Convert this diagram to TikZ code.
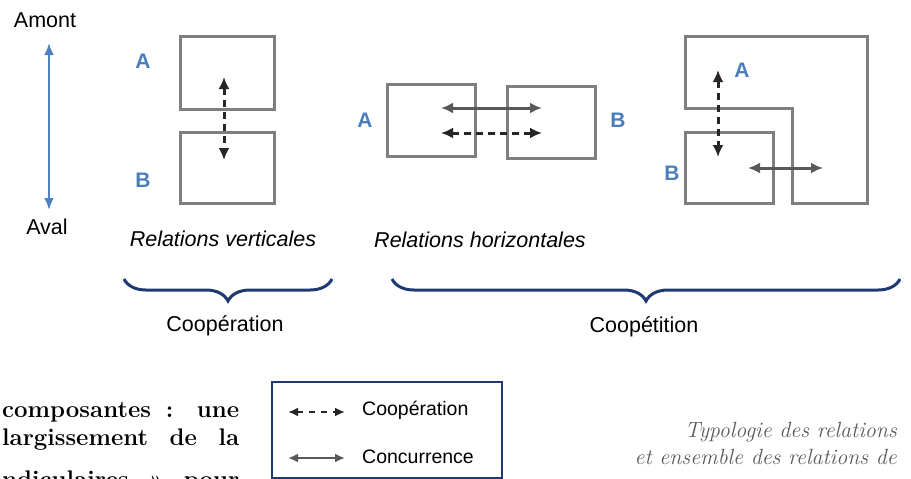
\documentclass[tikz,border=0pt]{standalone}
\usepackage{fontspec}
\setsansfont{Liberation Sans}
\usepackage{tikz}
\usetikzlibrary{arrows.meta,positioning,calc,decorations.pathreplacing}
\definecolor{boxgray}{HTML}{7F7F7F}
\definecolor{firmblue}{HTML}{4A7EBB}
\definecolor{axisblue}{HTML}{4F81BD}
\definecolor{navy}{HTML}{1F3A73}
\definecolor{concgray}{HTML}{595959}
\definecolor{coopblack}{HTML}{262626}
\definecolor{capgray}{HTML}{595959}

\begin{document}
\begin{tikzpicture}
[x=1pt,y=-1pt,>={Latex[length=12pt,width=11pt]}, node distance=0.9cm,
block/.style =
{draw=boxgray, line width=3pt, shape=rectangle, minimum width=94pt, minimum height=72pt, inner sep=0pt},
firm/.style = {font=\fontsize{21}{25}\selectfont\sffamily\bfseries, text=firmblue},
lbl/.style = {font=\fontsize{21.5}{25}\selectfont\sffamily},
leglbl/.style = {font=\fontsize{19.5}{23}\selectfont\sffamily, anchor=west, inner sep=0pt},
coop/.style = {<->, draw=coopblack, line width=3pt, dash pattern=on 7pt off 5pt},
conc/.style = {<->, draw=concgray, line width=3pt},
accol/.style = {draw=navy, line width=3pt, decorate, decoration={brace,mirror,amplitude=22pt}},
page/.style = {font=\fontsize{24}{28}\selectfont\bfseries, anchor=base west, inner sep=0pt}]
\useasboundingbox (0,0) rectangle (911,479);

\node [lbl](amont) at (45,20){Amont};
\node [lbl](aval) at (47,227){Aval};
\coordinate (up) at (49,43);
\coordinate (down) at (49,210);
\draw [{Latex[length=12pt,width=10pt]}-{Latex[length=12pt,width=10pt]}, draw=axisblue, line width=2.4pt] (up) -- (down);

\node [block, minimum height=73pt](vA) at (227,72.5){};
\node [block, minimum height=71pt](vB) at (227,167.5){};
\node [firm](lvA) at (143,61){A};
\node [firm](lvB) at (143,180){B};

\node [block, minimum width=88pt](hA) at (431,120){};
\node [block, minimum width=88pt](hB) at (551,122){};
\node [firm](lhA) at (365,120){A};
\node [firm](lhB) at (618,120){B};

\coordinate (L1) at (685,36);
\coordinate (L2) at (867,36);
\coordinate (L3) at (867,203);
\coordinate (L4) at (792,203);
\coordinate (L5) at (792,108);
\coordinate (L6) at (685,108);
\draw [draw=boxgray, line width=3pt] (L1) -- (L2) -- (L3) -- (L4) -- (L5) -- (L6) -- cycle;
\node [block, minimum width=88pt, minimum height=71pt](cB) at (729,167.5){};
\node [firm](lcA) at (742,70){A};
\node [firm](lcB) at (672,173){B};

\coordinate (v1) at (224,77);
\coordinate (v2) at (224,160);
\coordinate (h1) at (441,108);
\coordinate (h2) at (542,108);
\coordinate (h3) at (441,133);
\coordinate (h4) at (542,133);
\coordinate (c1) at (718,70);
\coordinate (c2) at (718,157);
\coordinate (c3) at (748,168);
\coordinate (c4) at (823,168);
\draw [coop] (v1) -- (v2);
\draw [coop] (h3) -- (h4);
\draw [coop] (c1) -- (c2);
\draw [conc] (h1) -- (h2);
\draw [conc] (c3) -- (c4);

\node [lbl, font=\fontsize{21.5}{25}\selectfont\sffamily\itshape](rv) at (223,239){Relations verticales};
\node [lbl, font=\fontsize{21.5}{25}\selectfont\sffamily\itshape](rh) at (480,240){Relations horizontales};

\coordinate (b1s) at (124,279);
\coordinate (b1e) at (332,279);
\coordinate (b2s) at (392,279);
\coordinate (b2e) at (900,279);
\draw [accol] (b1s) -- (b1e);
\draw [accol] (b2s) -- (b2e);
\node [lbl](coopt) at (225,326){Coopération};
\node [lbl](coopet) at (644,327){Coopétition};

\node [draw=navy, line width=1.6pt, minimum width=230pt, minimum height=96pt, inner sep=0pt](leg) at (387,430){};
\coordinate (g1) at (288,412);
\coordinate (g2) at (345,412);
\coordinate (g3) at (288,458);
\coordinate (g4) at (345,458);
\draw [coop, line width=2.6pt, dash pattern=on 6pt off 6pt, {Latex[length=10pt,width=9pt]}-{Latex[length=10pt,width=9pt]}] (g1) -- (g2);
\draw [conc, line width=2.6pt, {Latex[length=10pt,width=9pt]}-{Latex[length=10pt,width=9pt]}] (g3) -- (g4);
\node [leglbl](lcoop) at (362,410){Coopération};
\node [leglbl](lconc) at (362,457){Concurrence};

%% page text around the figure
\node [page](p1) at (2,417){\makebox[237pt][s]{composantes : une}};
\node [page](p2) at (2,445){\makebox[237pt][s]{largissement de la}};
\node [page](p3) at (2,487){\makebox[237pt][s]{ndiculaires » pour}};
\node [anchor=base east, inner sep=0pt, font=\fontsize{22}{26}\selectfont\itshape, text=capgray](cap1) at (897,437){Typologie des relations};
\node [anchor=base east, inner sep=0pt, font=\fontsize{22}{26}\selectfont\itshape, text=capgray](cap2) at (897,464){et ensemble des relations de};

\end{tikzpicture}
\end{document}
